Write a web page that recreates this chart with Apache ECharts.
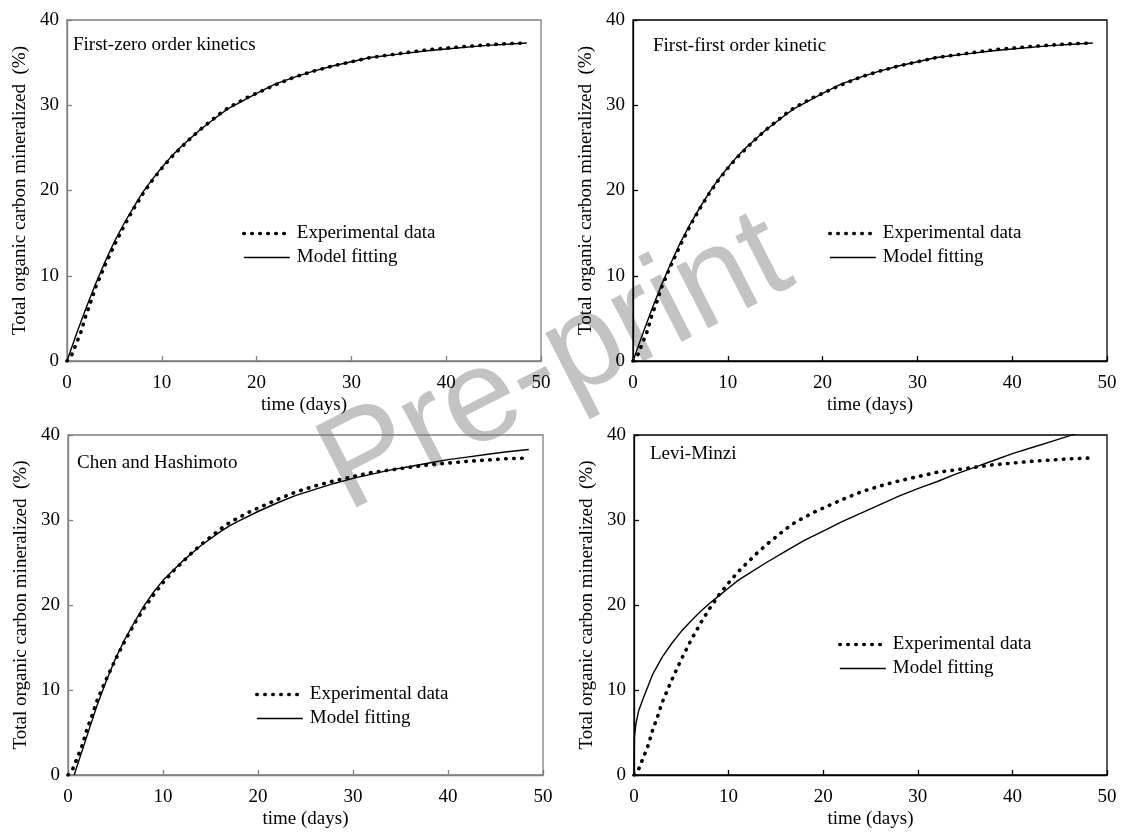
<!DOCTYPE html>
<html>
<head>
<meta charset="utf-8">
<script src="https://cdn.jsdelivr.net/npm/echarts@6/dist/echarts.min.js"></script>
<style>html,body{margin:0;padding:0;background:#fff;}#c{width:1123px;height:838px;}</style>
</head>
<body>
<div id="c"></div>
<script>
// ---- data ----
const xTicks = [0, 10, 20, 30, 40, 50];
const yTicks = [0, 10, 20, 30, 40];
const panelTitles = ['First-zero order kinetics', 'First-first order kinetic', 'Chen and Hashimoto', 'Levi-Minzi'];
const seriesNames = ['Experimental data', 'Model fitting'];

const expDays = [0,0.5,1,1.5,2,2.5,3,4,5,6,7,8,9,10,11,12,13,14,15,16,17,18,19,20,22,24,26,28,30,32,34,36,38,40,42,44,46,48.5];
const expValues = [0,0.7,2.1,3.5,5.4,6.9,8.6,11.2,13.6,15.8,17.8,19.6,21.2,22.6,23.9,25.0,26.1,27.1,28.0,28.9,29.7,30.3,30.9,31.4,32.4,33.3,34.0,34.6,35.1,35.6,35.9,36.2,36.5,36.7,36.9,37.05,37.2,37.3];

const m1Days = [0,1,2,3,4,5,6,7,8,9,10,11,12,14,16,17,18,20,22,24,26,28,30,32,35,38,40,44,48.5];
const m1Values = [0,3.2,6.2,9.0,11.6,14.0,16.1,18.0,19.8,21.3,22.7,24.0,25.1,27.1,28.8,29.6,30.2,31.4,32.5,33.3,34.0,34.6,35.1,35.6,36.0,36.4,36.6,37.0,37.3];

const m2Days = [0,1,2,3,4,5,6,7,8,9,10,11,12,14,16,17,18,20,22,24,26,28,30,32,35,38,40,44,48.5];
const m2Values = [0,3.1,6.1,8.9,11.5,13.9,16.0,17.9,19.7,21.3,22.7,24.0,25.1,27.1,28.8,29.6,30.2,31.4,32.5,33.3,34.0,34.6,35.1,35.6,36.0,36.4,36.6,37.0,37.3];

const m3Days = [0.65,1,2,3,4,5,6,7,8,9,10,12,14,16,17,18,20,22,24,26,28,30,32,34,36,38,40,42,44,46,48.5];
const m3Values = [0,1.2,4.6,8.0,11.0,13.7,16.0,18.0,19.9,21.5,22.9,25.1,27.0,28.6,29.3,29.9,31.0,32.0,32.9,33.6,34.3,34.9,35.4,35.9,36.3,36.7,37.1,37.4,37.7,38.0,38.3];

const m4Days = [0,0.05,0.2,0.5,1,2,3,4,5,6,7,8,9,10,11,12,14,16,18,20,22,24,26,28,30,31,32,34,36,38,40,42,44,46,48.5];
const m4Values = [0,4.5,6.0,7.6,9.1,11.9,13.9,15.5,16.9,18.1,19.2,20.2,21.1,22.0,22.9,23.6,25.0,26.3,27.6,28.7,29.8,30.8,31.8,32.8,33.7,34.1,34.5,35.4,36.2,37.0,37.8,38.5,39.2,39.9,40.8];

const watermark = 'Pre-print';

// ---- chart ----
const FONT = 'Liberation Serif';
const FS = 19;
const pair = (xs, ys) => xs.map((x, i) => [x, ys[i]]);
const models = [pair(m1Days, m1Values), pair(m2Days, m2Values), pair(m3Days, m3Values), pair(m4Days, m4Values)];
const expData = pair(expDays, expValues);

const grids = [
  {left: 67, top: 20, width: 474, height: 341},
  {left: 633, top: 20, width: 474, height: 341},
  {left: 68, top: 435, width: 475, height: 340},
  {left: 634, top: 435, width: 473, height: 340}
];
const axisColors = ['#7f7f7f', '#000', '#7f7f7f', '#000'];
const titlePos = [{left: 73, top: 36}, {left: 653, top: 37}, {left: 77, top: 454}, {left: 650, top: 445}];
const legendPos = [{left: 242, top: 224}, {left: 828, top: 224}, {left: 255, top: 685}, {left: 838, top: 635}];

const dotStyle = {color: '#000', width: 3.6, type: [0.5, 7.5], cap: 'round'};
const solidStyle = {color: '#000', width: 1.4, type: 'solid'};

const option = {
  animation: false,
  backgroundColor: '#fff',
  grid: grids.map((g, i) => Object.assign({show: true, borderColor: axisColors[i], borderWidth: 1.3, backgroundColor: 'transparent'}, g)),
  title: panelTitles.map((t, i) => ({
    text: t, left: titlePos[i].left, top: titlePos[i].top, padding: 0,
    textStyle: {fontFamily: FONT, fontSize: FS, fontWeight: 'normal', color: '#000'}
  })),
  legend: legendPos.map((p, i) => ({
    data: [
      {name: seriesNames[0], itemStyle: {opacity: 0}, lineStyle: dotStyle},
      {name: seriesNames[1], itemStyle: {opacity: 0}, lineStyle: solidStyle}
    ],
    orient: 'vertical', left: p.left, top: p.top, padding: 0,
    itemWidth: 46, itemHeight: 10, itemGap: 5, selectedMode: false,
    itemStyle: {opacity: 0},
    textStyle: {fontFamily: FONT, fontSize: FS, color: '#000', padding: [0, 0, 0, 2]}
  })),
  xAxis: grids.map((g, i) => ({
    gridIndex: i, type: 'value', min: xTicks[0], max: xTicks[xTicks.length - 1], interval: xTicks[1] - xTicks[0],
    name: 'time (days)', nameLocation: 'middle', nameGap: 35,
    nameTextStyle: {fontFamily: FONT, fontSize: FS, color: '#000'},
    axisLine: {show: true, lineStyle: {color: axisColors[i], width: 1.3}},
    axisTick: {show: true, inside: true, length: 5, lineStyle: {color: axisColors[i], width: 1.3}},
    axisLabel: {fontFamily: FONT, fontSize: FS, color: '#000', margin: 13},
    splitLine: {show: false}
  })),
  yAxis: grids.map((g, i) => ({
    gridIndex: i, type: 'value', min: yTicks[0], max: yTicks[yTicks.length - 1], interval: yTicks[1] - yTicks[0],
    name: 'Total organic carbon mineralized  (%)', nameLocation: 'middle', nameGap: 37,
    nameTextStyle: {fontFamily: FONT, fontSize: FS, color: '#000'},
    axisLine: {show: true, lineStyle: {color: axisColors[i], width: 1.3}},
    axisTick: {show: true, inside: true, length: 5, lineStyle: {color: axisColors[i], width: 1.3}},
    axisLabel: {fontFamily: FONT, fontSize: FS, color: '#000', margin: 8},
    splitLine: {show: false}
  })),
  graphic: [{
    type: 'text', x: 556, y: 365, rotation: 27 * Math.PI / 180, z: -10,
    style: {text: watermark, font: '132px "Liberation Sans"', fill: '#c3c3c3', align: 'center', verticalAlign: 'middle'}
  }],
  series: []
};
for (let i = 0; i < 4; i++) {
  option.series.push({
    name: seriesNames[0], type: 'line', xAxisIndex: i, yAxisIndex: i, data: expData,
    showSymbol: false, symbol: 'none', smooth: false, z: 3,
    lineStyle: dotStyle, itemStyle: {color: '#000'}
  });
  option.series.push({
    name: seriesNames[1], type: 'line', xAxisIndex: i, yAxisIndex: i, data: models[i],
    showSymbol: false, symbol: 'none', smooth: false, clip: true, z: 4,
    lineStyle: solidStyle, itemStyle: {color: '#000'}
  });
}
const chart = echarts.init(document.getElementById('c'), null, {renderer: 'canvas'});
chart.setOption(option);
</script>
</body>
</html>
